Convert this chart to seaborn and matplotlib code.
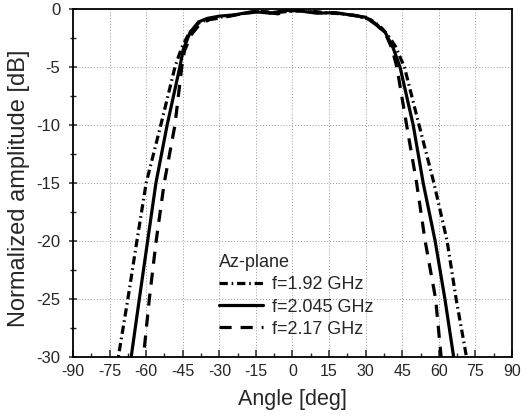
import matplotlib
matplotlib.use("Agg")
import matplotlib.pyplot as plt
import seaborn as sns
import numpy as np
import pandas as pd

# ---- data ----
angle_192 = [-72.2, -67.5, -63.8, -60.0, -54.0, -48.2, -45.6, -42.5, -38.5, -35.0, -30.0, -22.0,
             -14.0, -7.0, -2.0, 5.0, 13.0, 20.0, 27.0, 32.0, 36.0, 39.0, 42.2, 45.9, 51.9,
             58.0, 63.4, 67.1, 72.2]
db_192 = [-31.0, -25.0, -20.0, -15.0, -10.0, -5.0, -3.4, -2.1, -1.2, -0.9, -0.7, -0.45,
          -0.15, -0.3, -0.2, -0.1, -0.3, -0.4, -0.6, -0.9, -1.5, -2.2, -3.2, -5.0, -10.0,
          -15.0, -20.0, -25.0, -31.0]

angle_2045 = [-66.8, -62.8, -59.4, -56.0, -51.4, -46.2, -44.8, -42.0, -38.5, -35.0, -30.0, -24.0,
              -16.0, -9.0, -3.0, 3.0, 10.0, 17.0, 24.0, 30.0, 34.0, 38.0, 41.2, 44.1, 49.5,
              53.6, 58.5, 62.5, 66.8]
db_2045 = [-31.0, -25.0, -20.0, -15.0, -10.0, -5.0, -3.5, -2.0, -1.1, -0.8, -0.6, -0.5,
           -0.2, -0.35, -0.1, -0.15, -0.35, -0.3, -0.5, -0.7, -1.3, -2.0, -3.3, -5.0, -10.0,
           -15.0, -20.0, -25.0, -31.0]

angle_217 = [-61.6, -58.7, -55.9, -52.6, -48.2, -45.4, -44.3, -41.5, -38.0, -34.0, -28.0, -21.0,
             -13.0, -6.0, 0.0, 6.0, 12.0, 19.0, 26.0, 31.0, 35.0, 38.5, 40.8, 42.8, 46.8,
             50.9, 54.4, 58.7, 61.4]
db_217 = [-31.0, -25.0, -20.0, -15.0, -10.0, -5.0, -3.6, -2.2, -1.3, -0.9, -0.7, -0.4,
          -0.2, -0.4, -0.1, -0.2, -0.3, -0.35, -0.55, -0.8, -1.4, -2.3, -3.4, -5.0, -10.0,
          -15.0, -20.0, -25.0, -31.0]

labels = ["f=1.92 GHz", "f=2.045 GHz", "f=2.17 GHz"]
legend_title = "Az-plane"
xticks = list(range(-90, 91, 15))
yticks = list(range(-30, 1, 5))

# ---- plot ----
sns.set_style("ticks")
plt.rcParams["font.family"] = ["Liberation Sans", "DejaVu Sans"]
plt.rcParams["axes.unicode_minus"] = False

fig = plt.figure(figsize=(5.27, 4.17), dpi=100)
ax = fig.add_axes([0.1385, 0.144, 0.833, 0.834])

series = [(angle_192, db_192, (0, (2.6, 1.2, 0.5, 1.2))),
          (angle_2045, db_2045, "-"),
          (angle_217, db_217, (0, (3.8, 2.8)))]
for (a, d, ls), lab in zip(series, labels):
    df = pd.DataFrame({"angle": a, "db": d})
    sns.lineplot(data=df, x="angle", y="db", ax=ax, color="black", lw=2.3,
                 linestyle=ls, label=lab, sort=False, estimator=None)

ax.set_xlim(-90, 90)
ax.set_ylim(-30, 0)
ax.set_xticks(xticks)
ax.set_yticks(yticks)
ax.set_xticks(np.arange(-82.5, 90, 15), minor=True)
ax.set_yticks(np.arange(-27.5, 0, 5), minor=True)
ax.grid(True, which="major", linestyle=(0, (1, 2)), color="#999999", lw=0.7)
for s in ax.spines.values():
    s.set_linewidth(1.3)
    s.set_color("black")
ax.tick_params(axis="x", which="major", direction="in", length=5, width=1.1, labelsize=11.5, pad=5)
ax.tick_params(axis="x", which="minor", direction="in", length=3, width=1.0)
ax.tick_params(axis="y", which="major", direction="inout", length=6, width=1.1, labelsize=12, pad=6)
ax.tick_params(axis="y", which="minor", direction="inout", length=4, width=1.0)

ax.set_xlabel("Angle [deg]", fontsize=15.5, labelpad=7)
ax.set_ylabel("Normalized amplitude [dB]", fontsize=17)
ax.yaxis.set_label_coords(-0.098, 0.486)

leg = ax.legend(title=legend_title, loc="lower left", bbox_to_anchor=(0.296, 0.009),
                frameon=False, fontsize=13, title_fontsize=13, handlelength=2.45,
                handletextpad=0.45, labelspacing=0.28)
leg._legend_box.align = "left"

fig.savefig("out.png", dpi=100)
